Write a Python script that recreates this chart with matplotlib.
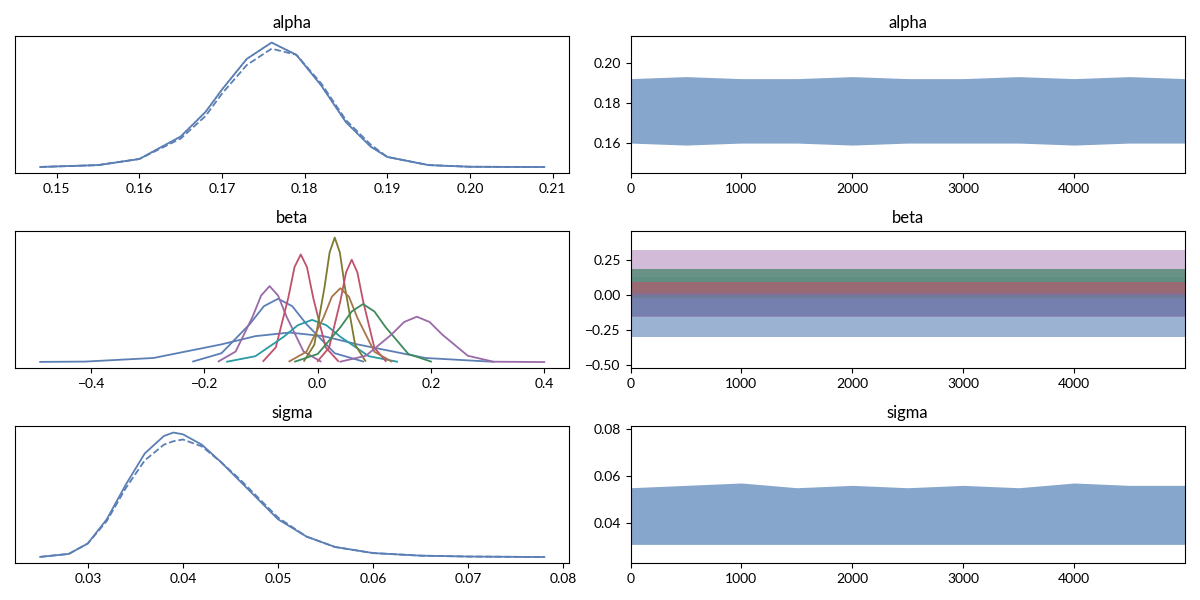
import matplotlib
matplotlib.use("Agg")
import matplotlib.pyplot as plt
import numpy as np

plt.rcParams['font.family'] = ['Lato', 'DejaVu Sans']

# ---- KDE curves (x, density) ----
alpha_x = [0.148,0.155,0.160,0.165,0.168,0.170,0.173,0.176,0.179,0.182,0.185,0.188,0.190,0.195,0.200,0.209]
alpha_y = [0.1,1,4,15,27,38,53,61,55,40,22,10,5,1,0.2,0.05]
alpha_y2 = [0.1,1,4,14,25,36,50,58,55,41,23,11,5,1,0.2,0.05]

sigma_x = [0.025,0.028,0.030,0.032,0.034,0.036,0.038,0.039,0.040,0.042,0.044,0.046,0.048,0.050,0.053,0.056,0.060,0.065,0.070,0.078]
sigma_y = [0.3,2,8,22,42,60,70,72,71,65,55,44,33,22,12,6,2.5,1,0.5,0.2]
sigma_y2 = [0.3,2,8,21,40,56,65,67,68,64,55,45,34,23,12,6,2.5,1,0.5,0.2]

beta_curves = [
    ([-0.22,-0.17,-0.12,-0.095,-0.07,-0.045,-0.02,0.03,0.08], [0.6,8.4,36,53,60,53,36,8.4,0.6], "#5b7fb5"),
    ([-0.49,-0.41,-0.29,-0.17,-0.11,-0.05,0.01,0.07,0.19,0.31], [0.2,0.5,3.9,16.8,24.6,28,24.6,16.8,3.9,0.3], "#5b7fb5"),
    ([-0.175,-0.145,-0.115,-0.1,-0.085,-0.07,-0.055,-0.025,0.005], [0.7,10,43,63,72,63,43,10,0.7], "#9a6aa8"),
    ([-0.096,-0.074,-0.052,-0.041,-0.03,-0.019,-0.008,0.014,0.036], [1,14,61,90,102,90,61,14,1], "#c0516b"),
    ([-0.16,-0.11,-0.06,-0.035,-0.01,0.015,0.04,0.09,0.14], [0.4,5.6,24,35,40,35,24,5.6,0.4], "#2a9aa5"),
    ([-0.024,-0.006,0.012,0.021,0.03,0.039,0.048,0.066,0.084], [1.2,16.5,71,104,118,104,71,16.5,1.2], "#7a7b2e"),
    ([0,0.02,0.04,0.05,0.06,0.07,0.08,0.1,0.12], [1,13.6,58,85,97,85,58,13.6,1], "#c0516b"),
    ([-0.05,-0.02,0.01,0.025,0.04,0.055,0.07,0.1,0.13], [0.7,9.8,42,62,70,62,42,9.8,0.7], "#a8744a"),
    ([-0.04,0,0.04,0.06,0.08,0.1,0.12,0.16,0.2], [0.5,7.7,33,48,55,48,33,7.7,0.5], "#3f8a5c"),
    ([0.04,0.085,0.13,0.1525,0.175,0.1975,0.22,0.265,0.31,0.4], [0.4,6,26,38,43,38,26,6,0.4,0.05], "#9a6aa8"),
]

# ---- trace envelopes (per 500-draw block) ----
draw_blocks = [0,500,1000,1500,2000,2500,3000,3500,4000,4500,4999]
alpha_lo = [0.160,0.159,0.160,0.160,0.159,0.160,0.160,0.160,0.159,0.160,0.160]
alpha_hi = [0.192,0.193,0.192,0.192,0.193,0.192,0.192,0.193,0.192,0.193,0.192]
sigma_lo = [0.031,0.031,0.031,0.031,0.031,0.031,0.031,0.031,0.031,0.031,0.031]
sigma_hi = [0.055,0.056,0.057,0.055,0.056,0.055,0.056,0.055,0.057,0.056,0.056]
beta_bands = [
    ([-0.30]*11, [0.18]*11, "#5b7fb5"),
    ([-0.15]*11, [0.13]*11, "#2a9aa5"),
    ([0.02]*11, [0.32]*11, "#b58fbf"),
    ([-0.02]*11, [0.18]*11, "#3f8a5c"),
    ([0.00]*11, [0.09]*11, "#c0516b"),
    ([-0.16]*11, [0.01]*11, "#8a6aa8"),
]

fig, axes = plt.subplots(3, 2, figsize=(12, 6), dpi=100)
blue = "#5b7fb5"

def style_left(ax, title):
    ax.set_title(title, fontsize=12)
    ax.set_yticks([])

ax = axes[0, 0]
ax.plot(alpha_x, alpha_y, color=blue, lw=1.3)
ax.plot(alpha_x, alpha_y2, color=blue, lw=1.3, ls="--")
ax.plot(alpha_x, alpha_y, color=blue, lw=1.1, ls=":")
style_left(ax, "alpha")
ax.set_xticks([0.15,0.16,0.17,0.18,0.19,0.20,0.21])

ax = axes[1, 0]
for xs, ys, c in beta_curves:
    ax.plot(xs, ys, color=c, lw=1.3)
style_left(ax, "beta")
ax.set_xticks([-0.4,-0.2,0.0,0.2,0.4])

ax = axes[2, 0]
ax.plot(sigma_x, sigma_y, color=blue, lw=1.3)
ax.plot(sigma_x, sigma_y2, color=blue, lw=1.3, ls="--")
style_left(ax, "sigma")
ax.set_xticks([0.03,0.04,0.05,0.06,0.07,0.08])

ax = axes[0, 1]
ax.fill_between(draw_blocks, alpha_lo, alpha_hi, color="#7a9cc6", alpha=0.9, lw=0)
ax.set_ylim(0.145, 0.213)
ax.set_title("alpha", fontsize=12)

ax = axes[1, 1]
for lo, hi, c in beta_bands:
    ax.fill_between(draw_blocks, lo, hi, color=c, alpha=0.6, lw=0)
ax.set_ylim(-0.52, 0.45)
ax.set_title("beta", fontsize=12)

ax = axes[2, 1]
ax.fill_between(draw_blocks, sigma_lo, sigma_hi, color="#7a9cc6", alpha=0.9, lw=0)
ax.set_ylim(0.023, 0.081)
ax.set_yticks([0.04,0.06,0.08])
ax.set_title("sigma", fontsize=12)

for ax in axes[:, 1]:
    ax.set_xlim(0, 5000)
    ax.set_xticks([0,1000,2000,3000,4000])

for ax in axes.flat:
    ax.tick_params(labelsize=10)

fig.tight_layout()
fig.savefig("out.png")
